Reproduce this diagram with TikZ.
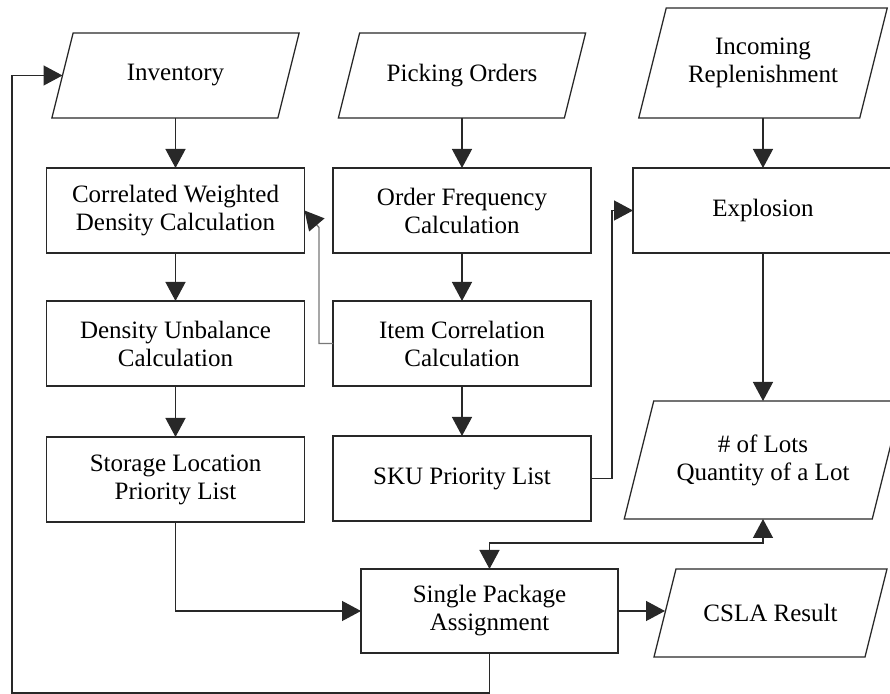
\documentclass[tikz,border=0pt]{standalone}
\usepackage{fontspec}
\setmainfont{Liberation Serif}
\usepackage{tikz}
\usetikzlibrary{arrows.meta, positioning, calc}
\definecolor{lineblack}{RGB}{40, 40, 40}
\definecolor{linegray}{RGB}{120, 120, 120}

\begin{document}
\begin{tikzpicture}[
    x=0.5pt, y=-0.5pt,
    every node/.style={font=\fontsize{12.5pt}{14pt}\selectfont, align=center, inner sep=0pt, outer sep=0pt},
    procbox/.style={rectangle, draw=lineblack, line width=0.65pt, minimum width=129pt, minimum height=42.5pt},
    iobox/.style={rectangle, minimum width=113pt, minimum height=42.5pt},
    line/.style={draw=lineblack, line width=0.65pt},
    arrow/.style={line, -{Triangle[length=9.5pt, width=10pt, color=lineblack]}},
    biarrow/.style={line, {Triangle[length=9.5pt, width=10pt]}-{Triangle[length=9.5pt, width=10pt]}}
]
    \useasboundingbox (0,0) rectangle (890,694);

    \node[iobox] (inv) at (175.5,75.5) {Inventory};
    \node[iobox] (pick) at (462,75.5) {Picking Orders};
    \node[iobox, minimum width=110.5pt, minimum height=55pt] (inc) at (763,63) {Incoming\\Replenishment};

    \node[procbox] (cwd) at (175.5,210.5) {Correlated Weighted\\Density Calculation};
    \node[procbox] (ofc) at (462,210.5) {Order Frequency\\Calculation};
    \node[procbox, minimum width=134pt] (expl) at (767,210.5) {};
    \node (expltxt) at (763,210.5) {Explosion};

    \node[procbox] (du) at (175.5,343.5) {Density Unbalance\\Calculation};
    \node[procbox] (icc) at (462,343.5) {Item Correlation\\Calculation};

    \node[procbox] (slp) at (175.5,479.5) {Storage Location\\Priority List};
    \node[procbox] (sku) at (462,478.5) {SKU Priority List};
    \node[iobox, minimum width=124pt, minimum height=59pt] (lots) at (763,460) {\# of Lots\\Quantity of a Lot};

    \node[procbox, minimum width=128.5pt, minimum height=42pt] (spa) at (489.5,611) {Single Package\\Assignment};
    \node[iobox, minimum width=105.5pt, minimum height=44pt] (csla) at (770.5,613) {CSLA Result};

    \foreach \nd in {inv,pick,inc,lots,csla}
        \draw[line] let \p1=(\nd.north east), \p2=(\nd.south west), \n1={0.125*(\y1-\y2)} in
            (\x2-\n1,\y2) -- (\x1-\n1,\y2) -- (\x1+\n1,\y1) -- (\x2+\n1,\y1) -- cycle;

    \coordinate (fbcorner) at (12,693);

    \draw[arrow] (inv) -- (cwd);
    \draw[arrow] (cwd) -- (du);
    \draw[arrow] (du) -- (slp);
    \draw[arrow] (pick) -- (ofc);
    \draw[arrow] (ofc) -- (icc);
    \draw[arrow] (icc) -- (sku);
    \draw[arrow] (inc.south) -- (inc.south |- expl.north);
    \draw[arrow] (lots.north |- expl.south) -- (lots.north);
    \draw[arrow, draw=linegray] (icc.west) -- ++(-14,0) -- ++(0,-116) -- (cwd.east);
    \draw[arrow] (sku.east) -- ++(21,0) |- (expl.west);
    \draw[arrow] (slp.south) |- (spa.west);
    \draw[arrow] (spa.east) -- (spa.east -| csla.west);
    \draw[biarrow] (spa.north) -- ++(0,-26) -| (lots.south);
    \draw[arrow] (spa.south) |- (fbcorner) |- (inv.west);
\end{tikzpicture}
\end{document}
